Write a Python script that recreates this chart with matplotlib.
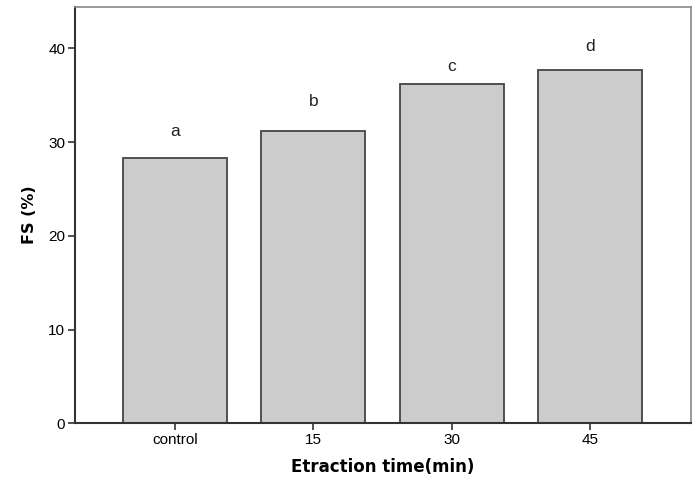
import matplotlib
matplotlib.use("Agg")
import matplotlib.pyplot as plt
import numpy as np

categories = ["control", "15", "30", "45"]
fs_values = [28.3, 31.2, 36.2, 37.7]
letters = ["a", "b", "c", "d"]
letter_pos = [30.6, 33.8, 37.6, 39.7]

plt.rcParams["font.family"] = ["Liberation Sans", "DejaVu Sans"]

fig = plt.figure(figsize=(6.97, 4.86), dpi=100)
ax = fig.add_axes([75 / 697, 1 - 423.3 / 486, 615.7 / 697, 416.3 / 486])

x = np.arange(len(categories))
ax.bar(x, fs_values, width=0.75, color="#cccccc", edgecolor="#444444", linewidth=1.3)

# significance letters above bars
for xi, lab, yp in zip(x, letters, letter_pos):
    ax.text(xi, yp, lab, ha="center", va="baseline", fontsize=12.5, color="#222222")

ax.set_xlim(-0.723, 3.728)
ax.set_ylim(0, 44.4)
ax.set_xticks(x)
ax.set_xticklabels(categories)
ax.set_yticks([0, 10, 20, 30, 40])
ax.tick_params(axis="both", direction="out", length=5, width=1.2, color="#333333", labelsize=11, pad=2)

for side in ["left", "bottom"]:
    ax.spines[side].set_color("#333333")
    ax.spines[side].set_linewidth(1.5)
for side in ["top", "right"]:
    ax.spines[side].set_color("#888888")
    ax.spines[side].set_linewidth(1.2)

ax.set_xlabel("Etraction time(min)", fontsize=12, fontweight="bold", family="DejaVu Sans", labelpad=8)
ax.set_ylabel("FS (%)", fontsize=11.5, fontweight="bold", family="DejaVu Sans", labelpad=8)

fig.savefig("out.png", dpi=100)
plt.close(fig)
